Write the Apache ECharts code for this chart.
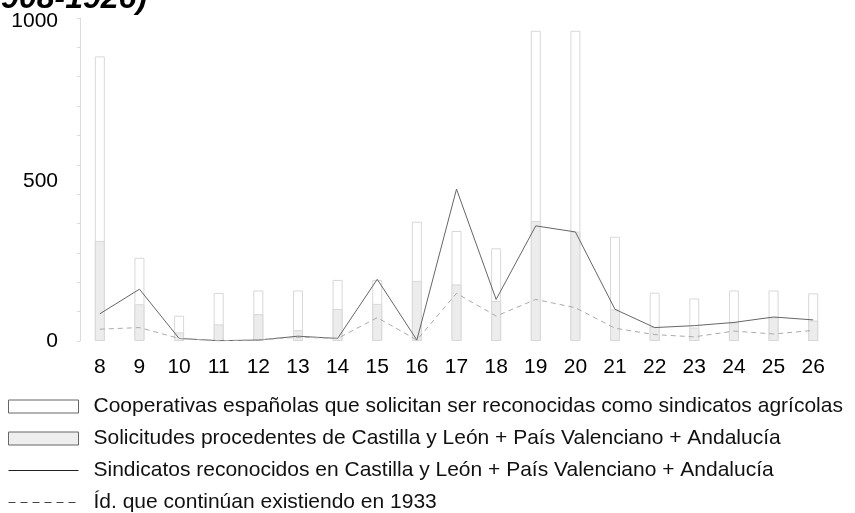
<!DOCTYPE html>
<html>
<head>
<meta charset="utf-8">
<script src="https://cdn.jsdelivr.net/npm/echarts@6/dist/echarts.min.js"></script>
<style>
  html, body { margin: 0; padding: 0; background: #fff; }
  #chart { width: 855px; height: 513px; }
</style>
</head>
<body>
<div id="chart"></div>
<script>
// años (19xx)
const years = ['8', '9', '10', '11', '12', '13', '14', '15', '16', '17', '18', '19', '20', '21', '22', '23', '24', '25', '26']

// cooperativas que solicitan reconocimiento (19 y 20 cortadas arriba)
const solicitudesTotal = [890, 260, 79, 150, 158, 158, 191, 191, 373, 344, 290, 970, 970, 326, 151, 133, 158, 158, 149]
// solicitudes Castilla y León + País Valenciano + Andalucía
const solicitudesRegion = [313, 115, 27, 52, 84, 34, 100, 116, 188, 177, 125, 375, 342, 99, 44, 42, 58, 74, 64]
// sindicatos reconocidos
const reconocidos = [85, 162, 8, 1, 3, 15, 8, 193, 3, 475, 130, 360, 341, 99, 42, 48, 58, 75, 66]
// los que siguen en 1933
const existen1933 = [37, 42, 8, 1, 3, 12, 8, 73, 3, 149, 78, 130, 104, 40, 20, 13, 31, 22, 33]

const yLabels = [0, 500, 1000]

const names = [
  'Cooperativas españolas que solicitan ser reconocidas como sindicatos agrícolas',
  'Solicitudes procedentes de Castilla y León + País Valenciano + Andalucía',
  'Sindicatos reconocidos en Castilla y León + País Valenciano + Andalucía',
  'Íd. que continúan existiendo en 1933'
]

const chart = echarts.init(document.getElementById('chart'))
const font = 'Liberation Sans, Arial, sans-serif'
const yMax = 1010

chart.setOption({
  animation: false,
  textStyle: { fontFamily: font },
  graphic: [{
    type: 'text',
    right: 708,
    top: -17,
    style: {
      text: '(1908-1926)',
      font: 'italic bold 32px ' + font,
      fill: '#000'
    }
  }],
  grid: { left: 80, right: 22, top: 18, bottom: 172 },
  legend: {
    orient: 'vertical',
    left: 3,
    top: 391,
    height: 140,
    itemWidth: 70,
    itemHeight: 13,
    itemGap: 11,
    textStyle: { fontSize: 21, lineHeight: 21, color: '#111', padding: [0, 0, 0, 10] },
    data: [
      { name: names[0], icon: 'rect', itemStyle: { color: '#fff', borderColor: '#666', borderWidth: 1 } },
      { name: names[1], icon: 'rect', itemStyle: { color: '#eee', borderColor: '#666', borderWidth: 1 } },
      { name: names[2], itemStyle: { opacity: 0 }, lineStyle: { color: '#222', width: 1 } },
      { name: names[3], itemStyle: { opacity: 0 }, lineStyle: { color: '#444', width: 1, type: [7, 5] } }
    ]
  },
  xAxis: {
    type: 'category',
    data: years,
    boundaryGap: true,
    axisLine: { show: false },
    axisTick: { show: false },
    axisLabel: { fontSize: 21, color: '#000', margin: 16 }
  },
  yAxis: [{
    type: 'value',
    min: 0,
    max: yMax,
    interval: 500,
    splitLine: { show: false },
    axisLine: { show: false },
    axisTick: { show: false },
    axisLabel: {
      fontSize: 21,
      color: '#000',
      margin: 22,
      formatter: v => yLabels.includes(v) ? String(v) : ''
    }
  }, {
    // ejes de marcas (11 divisiones)
    type: 'value',
    position: 'left',
    min: 0,
    max: yMax,
    interval: yMax / 11,
    splitLine: { show: false },
    axisLabel: { show: false },
    axisLine: { show: true, lineStyle: { color: '#ddd' } },
    axisTick: { show: true, length: 3, inside: false, lineStyle: { color: '#ddd' } }
  }],
  series: [
    {
      name: names[0],
      type: 'bar',
      data: solicitudesTotal,
      barWidth: 10,
      itemStyle: { color: '#fff', borderColor: '#d8d8d8', borderWidth: 1 },
      z: 1
    },
    {
      name: names[1],
      type: 'bar',
      data: solicitudesRegion,
      barWidth: 10,
      barGap: '-100%',
      itemStyle: { color: '#ececec', borderColor: '#d8d8d8', borderWidth: 1 },
      z: 2
    },
    {
      name: names[2],
      type: 'line',
      data: reconocidos,
      symbol: 'none',
      itemStyle: { color: '#666' },
      lineStyle: { color: '#666', width: 1 },
      z: 3
    },
    {
      name: names[3],
      type: 'line',
      data: existen1933,
      symbol: 'none',
      itemStyle: { color: '#aaa' },
      lineStyle: { color: '#aaa', width: 1, type: [5, 4] },
      z: 3
    }
  ]
})
</script>
</body>
</html>
